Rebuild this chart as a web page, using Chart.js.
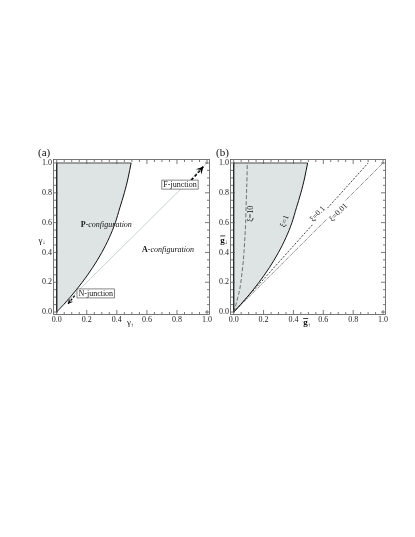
<!DOCTYPE html>
<html>
<head>
<meta charset="utf-8">
<script src="https://cdn.jsdelivr.net/npm/chart.js@4.4.0/dist/chart.umd.min.js"></script>
<style>
  html, body { margin: 0; padding: 0; background: #fff; width: 415px; height: 537px; overflow: hidden; }
  canvas { position: absolute; top: 0; }
  #chartA { left: 0; }
  #chartB { left: 205px; }
</style>
</head>
<body>
<canvas id="chartA" width="215" height="340" style="width:215px;height:340px"></canvas>
<canvas id="chartB" width="210" height="340" style="width:210px;height:340px"></canvas>
<script>
// axis ticks (same on both panels)
const tickValues = [0, 0.2, 0.4, 0.6, 0.8, 1.0];
const tickLabels = ["0.0", "0.2", "0.4", "0.6", "0.8", "1.0"];
const minorTickValues = [0.05, 0.1, 0.15, 0.25, 0.3, 0.35, 0.45, 0.5, 0.55, 0.65, 0.7, 0.75, 0.85, 0.9, 0.95];

// P / A boundary (also the xi = 1 curve in panel b)
const boundaryUp   = [0, 0.09, 0.17, 0.24, 0.30, 0.35, 0.39, 0.42, 0.45, 0.475, 0.495];
const boundaryDown = [0, 0.10, 0.20, 0.30, 0.40, 0.50, 0.60, 0.70, 0.80, 0.90, 1.00];

// panel a: gamma_up = gamma_down line and the two junction arrows
const diagUp   = [0, 1.0];
const diagDown = [0, 1.0];
const nArrowUp   = [0.12, 0.075];
const nArrowDown = [0.11, 0.055];
const fArrowUp   = [0.895, 0.975];
const fArrowDown = [0.885, 0.975];

// panel b: other xi curves
const xi10Up    = [0, 0.015, 0.028, 0.040, 0.048, 0.060, 0.069, 0.075, 0.080, 0.083, 0.086, 0.089, 0.091];
const xi10Down  = [0, 0.05, 0.10, 0.15, 0.20, 0.30, 0.40, 0.50, 0.60, 0.70, 0.80, 0.90, 1.00];
const xi01Up    = [0, 0.20, 0.45, 0.68, 0.90];
const xi01Down  = [0, 0.22, 0.50, 0.755, 1.00];
const xi001Up   = [0, 0.25, 0.50, 0.75, 1.00];
const xi001Down = [0, 0.25, 0.50, 0.75, 1.00];

const SERIF = '"Liberation Serif", "DejaVu Serif", serif';
const pts = (xs, ys) => xs.map((v, i) => ({ x: v, y: ys[i] }));

function axis(pos, min, max, size) {
  return {
    type: "linear", position: pos, min: min, max: max,
    grid: { display: false, drawTicks: false },
    border: { display: false },
    afterBuildTicks: s => { s.ticks = tickValues.map(v => ({ value: v })); },
    afterFit: s => { if (pos === "left") s.width = size; else s.height = size; },
    ticks: {
      autoSkip: false, maxRotation: 0, padding: pos === "left" ? 2 : 1,
      color: "#222", font: { family: SERIF, size: 8 },
      callback: v => tickLabels[tickValues.indexOf(v)]
    }
  };
}

function line(data, color, width, dash, extra) {
  return Object.assign({
    data: data, showLine: true, pointRadius: 0, borderColor: color,
    borderWidth: width, borderDash: dash || [], fill: false, order: 1
  }, extra || {});
}

// rich text: parts = [[text, style, size, dy]]
const partFont = p => (p[1].includes("italic") ? "italic " : "") + (p[1].includes("bold") ? "bold " : "") + p[2] + "px " + SERIF;
function richText(ctx, parts, cx, cy) {
  let total = 0;
  parts.forEach(p => { ctx.font = partFont(p); total += ctx.measureText(p[0]).width; });
  let x = cx - total / 2;
  ctx.textAlign = "left";
  ctx.textBaseline = "middle";
  parts.forEach(p => {
    ctx.font = partFont(p);
    ctx.fillText(p[0], x, cy + (p[3] || 0));
    x += ctx.measureText(p[0]).width;
  });
  return total;
}

function decor(cfg) {
  return {
    id: "decor",
    afterDatasetsDraw(chart) {
      const { ctx, chartArea: a, scales: { x, y } } = chart;
      ctx.save();
      // arrow heads
      chart.data.datasets.forEach((ds, i) => {
        if (!ds.arrow) return;
        const m = chart.getDatasetMeta(i).data;
        const p1 = m[m.length - 2], p2 = m[m.length - 1];
        const ang = Math.atan2(p2.y - p1.y, p2.x - p1.x);
        const L = ds.headLen, W = ds.headLen * 0.55;
        ctx.fillStyle = "#000";
        ctx.beginPath();
        ctx.moveTo(p2.x, p2.y);
        ctx.lineTo(p2.x - L * Math.cos(ang) + W * Math.sin(ang), p2.y - L * Math.sin(ang) - W * Math.cos(ang));
        ctx.lineTo(p2.x - L * 0.6 * Math.cos(ang), p2.y - L * 0.6 * Math.sin(ang));
        ctx.lineTo(p2.x - L * Math.cos(ang) - W * Math.sin(ang), p2.y - L * Math.sin(ang) + W * Math.cos(ang));
        ctx.closePath();
        ctx.fill();
      });
      // text labels
      cfg.labels.forEach(l => {
        const px = x.getPixelForValue(l.x), py = y.getPixelForValue(l.y);
        ctx.save();
        ctx.translate(px, py);
        ctx.rotate((l.rot || 0) * Math.PI / 180);
        let w = 0;
        l.parts.forEach(p => { ctx.font = partFont(p); w += ctx.measureText(p[0]).width; });
        if (l.bg) {
          ctx.fillStyle = "#fff";
          ctx.fillRect(-w / 2 - 1.5, -4.5, w + 3, 9);
        }
        if (l.box) {
          ctx.strokeStyle = "#555";
          ctx.lineWidth = 0.7;
          ctx.strokeRect(-w / 2 - 1.5, -4.5, w + 3, 9);
        }
        ctx.fillStyle = "#111";
        richText(ctx, l.parts, 0, 0.5);
        ctx.restore();
      });
      // frame with inward ticks on all sides
      ctx.strokeStyle = "#555";
      ctx.lineWidth = 0.8;
      ctx.strokeRect(Math.round(a.left) - 0.5, Math.round(a.top) - 0.5, Math.round(a.right - a.left) + 1, Math.round(a.bottom - a.top) + 1);
      const tick = (v, len) => {
        const px = x.getPixelForValue(v), py = y.getPixelForValue(v);
        ctx.beginPath();
        ctx.moveTo(px, a.bottom); ctx.lineTo(px, a.bottom - len);
        ctx.moveTo(px, a.top); ctx.lineTo(px, a.top + len);
        ctx.moveTo(a.left, py); ctx.lineTo(a.left + len, py);
        ctx.moveTo(a.right, py); ctx.lineTo(a.right - len, py);
        ctx.stroke();
      };
      tickValues.forEach(v => tick(v, 4));
      minorTickValues.forEach(v => tick(v, 2));
      // panel letter and axis titles
      ctx.fillStyle = "#111";
      ctx.font = "11px " + SERIF;
      ctx.textAlign = "left";
      ctx.textBaseline = "alphabetic";
      ctx.fillText(cfg.panel, cfg.panelX, 156);
      const xt = x.getPixelForValue(cfg.xTitleAt);
      const yt = y.getPixelForValue(cfg.yTitleAt);
      const w1 = richText(ctx, cfg.xTitle, xt, a.bottom + 9);
      const w2 = richText(ctx, cfg.yTitle, cfg.yTitleX, yt);
      if (cfg.overbar) {
        ctx.fillRect(xt - w1 / 2, a.bottom + 4, 5, 0.8);
        ctx.fillRect(cfg.yTitleX - w2 / 2, yt - 5, 5, 0.8);
      }
      ctx.restore();
    }
  };
}

const fillColor = "#dde4e3";
const regionStyle = { fill: { value: 1 }, backgroundColor: fillColor, cubicInterpolationMode: "monotone", order: 5 };

// ---------- panel (a) ----------
new Chart(document.getElementById("chartA"), {
  type: "scatter",
  data: {
    datasets: [
      line(pts(boundaryUp, boundaryDown), "#111", 1, [], regionStyle),
      line([{ x: boundaryUp[boundaryUp.length - 1], y: 1 }, { x: 0, y: 1 }, { x: 0, y: 0 }], "#222", 0.8),
      line(pts(diagUp, diagDown), "#9fb2b2", 0.6),
      line(pts(nArrowUp, nArrowDown), "#000", 1.2, [2.5, 1.5], { arrow: true, headLen: 5 }),
      line(pts(fArrowUp, fArrowDown), "#000", 1.8, [3, 2], { arrow: true, headLen: 7 })
    ]
  },
  options: {
    responsive: false, animation: false,
    layout: { padding: { left: 34, top: 160, right: 6, bottom: 14 } },
    plugins: { legend: { display: false }, tooltip: { enabled: false } },
    scales: { x: axis("bottom", -0.018, 1.013, 12), y: axis("left", -0.013, 1.02, 20) }
  },
  plugins: [decor({
    panel: "(a)", panelX: 38,
    xTitle: [["γ", "", 9], ["↑", "", 6, 2]], xTitleAt: 0.49,
    yTitle: [["γ", "", 9], ["↓", "", 6, 2]], yTitleAt: 0.48, yTitleX: 42,
    labels: [
      { x: 0.33, y: 0.59, parts: [["P", "bold", 8], ["-configuration", "italic", 8]] },
      { x: 0.74, y: 0.42, parts: [["A", "bold", 8], ["-configuration", "italic", 8]] },
      { x: 0.82, y: 0.855, bg: true, box: true, parts: [["F-junction", "", 8]] },
      { x: 0.26, y: 0.125, bg: true, box: true, parts: [["N-junction", "", 8]] }
    ]
  })]
});

// ---------- panel (b) ----------
new Chart(document.getElementById("chartB"), {
  type: "scatter",
  data: {
    datasets: [
      line(pts(boundaryUp, boundaryDown), "#111", 1, [], regionStyle),
      line([{ x: boundaryUp[boundaryUp.length - 1], y: 1 }, { x: 0, y: 1 }, { x: 0, y: 0 }], "#222", 0.8),
      line(pts(xi10Up, xi10Down), "#6f6f6f", 1, [4, 2], { cubicInterpolationMode: "monotone" }),
      line(pts(xi01Up, xi01Down), "#111", 0.8, [2, 1.5]),
      line(pts(xi001Up, xi001Down), "#111", 0.8, [0.8, 1])
    ]
  },
  options: {
    responsive: false, animation: false,
    layout: { padding: { left: 8, top: 160, right: 30, bottom: 14 } },
    plugins: { legend: { display: false }, tooltip: { enabled: false } },
    scales: { x: axis("bottom", -0.018, 1.013, 12), y: axis("left", -0.013, 1.02, 18) }
  },
  plugins: [decor({
    panel: "(b)", panelX: 11, overbar: true,
    xTitle: [["g", "bold", 9], ["↑", "", 6, 2]], xTitleAt: 0.49,
    yTitle: [["g", "bold", 9], ["↓", "", 6, 2]], yTitleAt: 0.48, yTitleX: 19,
    labels: [
      { x: 0.113, y: 0.66, rot: -90, parts: [["ξ=10", "", 8]] },
      { x: 0.34, y: 0.61, rot: -70, parts: [["ξ=1", "", 8]] },
      { x: 0.56, y: 0.66, rot: -48, bg: true, parts: [["ξ=0.1", "", 8]] },
      { x: 0.70, y: 0.67, rot: -45, bg: true, parts: [["ξ=0.01", "", 8]] }
    ]
  })]
});
</script>
</body>
</html>
